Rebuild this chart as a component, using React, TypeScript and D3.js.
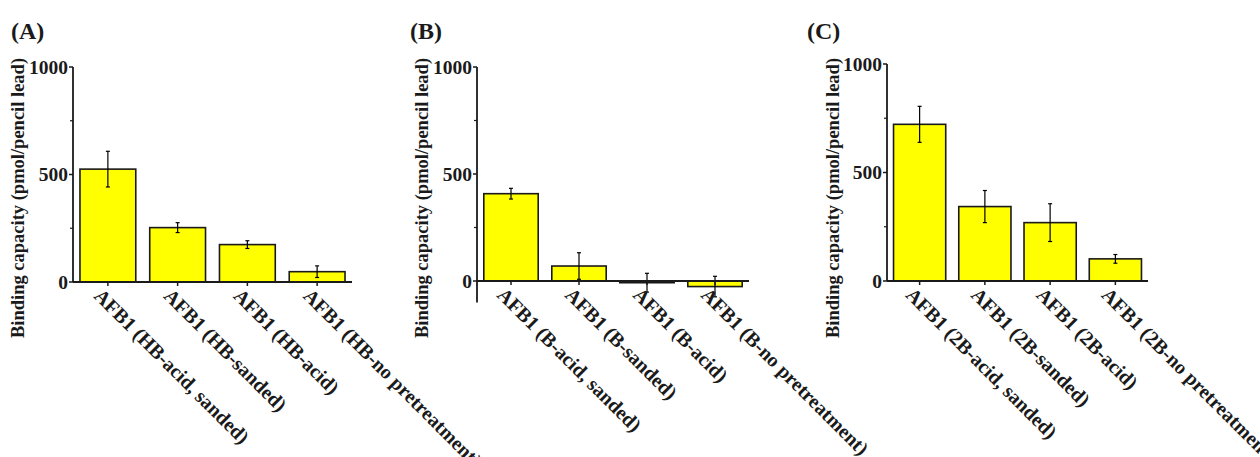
import React from 'react';
import * as d3 from 'd3';

// panel data
const categoriesA = ['AFB1 (HB-acid, sanded)', 'AFB1 (HB-sanded)', 'AFB1 (HB-acid)', 'AFB1 (HB-no pretreatment)'];
const valuesA = [525, 253, 174, 48];
const errorsA = [83, 23, 18, 27];

const categoriesB = ['AFB1 (B-acid, sanded)', 'AFB1 (B-sanded)', 'AFB1 (B-acid)', 'AFB1 (B-no pretreatment)'];
const valuesB = [408, 70, -8, -26];
const errorsB = [25, 62, 44, 48];

const categoriesC = ['AFB1 (2B-acid, sanded)', 'AFB1 (2B-sanded)', 'AFB1 (2B-acid)', 'AFB1 (2B-no pretreatment)'];
const valuesC = [722, 343, 269, 102];
const errorsC = [83, 74, 87, 20];

const majorTicks = [0, 500, 1000];
const minorTicks = [250, 750];
const yLabel = 'Binding capacity (pmol/pencil lead)';

const font = '"Liberation Serif", "Times New Roman", serif';
const ink = '#1a1a1a';

type PanelProps = {
    title: string;
    categories: string[];
    values: number[];
    errors: number[];
    yMin: number;
    left: number;
    right: number;
    top: number;
    zero: number;
    titleX: number;
    labelX: number;
};

function Panel(props: PanelProps) {
    const { title, categories, values, errors, yMin, left, right, top, zero, titleX, labelX } = props;

    const x = d3.scaleBand<string>()
        .domain(categories)
        .range([left, right])
        .paddingInner(0.2)
        .paddingOuter(0.1);

    const y = d3.scaleLinear()
        .domain([0, 1000])
        .range([zero, top]);

    const bottom = y(yMin);

    return (
        <g>
            <text x={titleX} y={39} fontFamily={font} fontWeight="bold" fontSize={24} fill={ink}>{title}</text>

            {/* y axis label */}
            <text
                transform={`translate(${labelX},198) rotate(-90)`}
                textAnchor="middle"
                fontFamily={font}
                fontWeight="bold"
                fontSize={18.5}
                fill={ink}
            >{yLabel}</text>

            {/* bars */}
            {categories.map((c, i) => {
                const v = values[i];
                const y0 = y(Math.max(0, v));
                const h = Math.max(1.5, Math.abs(y(v) - y(0)));
                return (
                    <rect key={c} x={x(c)} y={y0} width={x.bandwidth()} height={h}
                        fill="#ffff00" stroke={ink} strokeWidth={1.6} />
                );
            })}

            {/* error bars */}
            {categories.map((c, i) => {
                const cx = (x(c) as number) + x.bandwidth() / 2;
                const hi = y(values[i] + errors[i]);
                const lo = y(values[i] - errors[i]);
                return (
                    <g key={c + '-err'} stroke="#000" strokeWidth={1.2}>
                        <line x1={cx} x2={cx} y1={hi} y2={lo} />
                        <line x1={cx - 2} x2={cx + 2} y1={hi} y2={hi} />
                        <line x1={cx - 2} x2={cx + 2} y1={lo} y2={lo} />
                    </g>
                );
            })}

            {/* axes */}
            <line x1={left} x2={left} y1={top} y2={bottom} stroke={ink} strokeWidth={1.8} />
            <line x1={left} x2={right} y1={zero} y2={zero} stroke={ink} strokeWidth={1.8} />

            {majorTicks.map(t => (
                <g key={'m' + t}>
                    <line x1={left - 4} x2={left} y1={y(t)} y2={y(t)} stroke={ink} strokeWidth={1.5} />
                    <text x={left - 5} y={y(t)} dy="0.35em" textAnchor="end"
                        fontFamily={font} fontWeight="bold" fontSize={19.5} fill={ink}>{t}</text>
                </g>
            ))}
            {minorTicks.map(t => (
                <line key={'n' + t} x1={left - 3} x2={left} y1={y(t)} y2={y(t)} stroke={ink} strokeWidth={1.2} />
            ))}

            {/* category ticks and rotated labels */}
            {categories.map(c => {
                const cx = (x(c) as number) + x.bandwidth() / 2;
                return (
                    <g key={c + '-tick'}>
                        <line x1={cx} x2={cx} y1={zero} y2={zero + 4} stroke={ink} strokeWidth={1.5} />
                        <text transform={`translate(${cx - 15},${zero + 15}) rotate(45)`}
                            fontFamily={font} fontWeight="bold" fontSize={20} fill={ink}>{c}</text>
                    </g>
                );
            })}
        </g>
    );
}

export default function App() {
    return (
        <svg width={1260} height={457} style={{ position: 'absolute', left: 0, top: 0, background: '#fff' }}>
            <Panel title="(A)" categories={categoriesA} values={valuesA} errors={errorsA} yMin={0}
                left={73} right={352} top={67} zero={282} titleX={11} labelX={24} />
            <Panel title="(B)" categories={categoriesB} values={valuesB} errors={errorsB} yMin={-100}
                left={477} right={749} top={67} zero={281} titleX={410} labelX={428} />
            <Panel title="(C)" categories={categoriesC} values={valuesC} errors={errorsC} yMin={0}
                left={887} right={1148} top={64} zero={281} titleX={807} labelX={839} />
        </svg>
    );
}
